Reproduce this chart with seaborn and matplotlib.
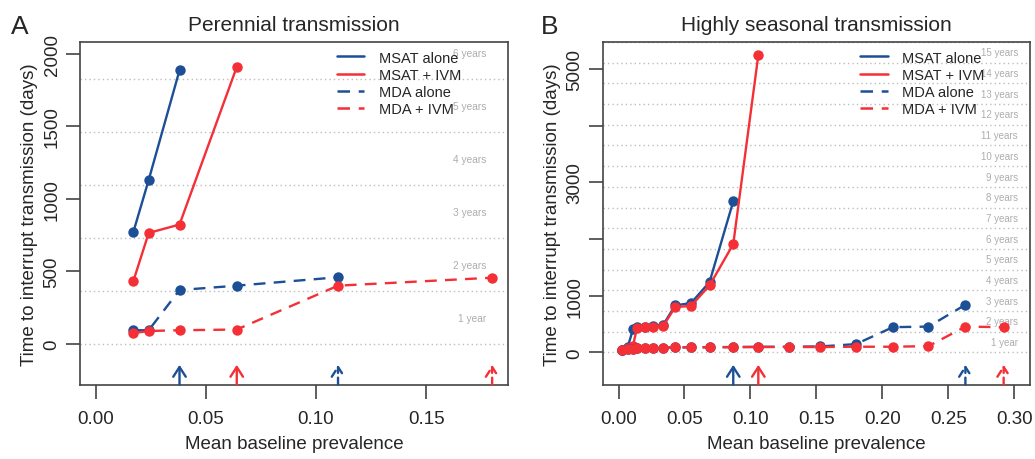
import numpy as np
import pandas as pd
import seaborn as sns
import matplotlib
matplotlib.use("Agg")
import matplotlib.pyplot as plt
from matplotlib.lines import Line2D

# Panel A: perennial transmission
prev_a = [0.017, 0.024, 0.038, 0.064, 0.110, 0.180]
msat_a = [770, 1130, 1885]
msat_ivm_a = [432, 765, 823, 1908]
mda_a = [95, 95, 372, 402, 460]
mda_ivm_a = [75, 90, 95, 100, 402, 457]

# Panel B: highly seasonal transmission
prev_b = [0.003, 0.007, 0.011, 0.014, 0.020, 0.026, 0.034, 0.043, 0.055, 0.069,
          0.087, 0.106, 0.129, 0.153, 0.180, 0.208, 0.235, 0.263, 0.292]
msat_b = [50, 95, 410, 440, 455, 460, 490, 830, 870, 1240, 2665]
msat_ivm_b = [45, 70, 120, 430, 445, 455, 470, 800, 820, 1180, 1910, 5245]
mda_b = [35, 55, 65, 70, 75, 80, 85, 88, 90, 92, 95, 98, 100, 105, 146, 445, 455, 840]
mda_ivm_b = [35, 55, 65, 70, 75, 80, 85, 88, 90, 90, 92, 95, 95, 95, 100, 100, 110, 455, 445]

series_names = ["MSAT alone", "MSAT + IVM", "MDA alone", "MDA + IVM"]
year_labels_a = ["1 year"] + [f"{k} years" for k in range(2, 7)]
year_labels_b = ["1 year"] + [f"{k} years" for k in range(2, 16)]

BLUE = "#1C4F95"
RED = "#F42F36"
GRID = "#BDBDBD"
styles = {
    "MSAT alone": (BLUE, "-"),
    "MSAT + IVM": (RED, "-"),
    "MDA alone": (BLUE, (0, (5, 3.5))),
    "MDA + IVM": (RED, (0, (5, 3.5))),
}

sns.set_style("ticks")
plt.rcParams["font.family"] = ["Liberation Sans", "DejaVu Sans"]

fig = plt.figure(figsize=(10.35, 4.6), dpi=100)
ax_a = fig.add_axes([0.0773, 0.1615, 0.4135, 0.745])
ax_b = fig.add_axes([0.5823, 0.1615, 0.4129, 0.745])


def draw_panel(ax, prev, data, year_labels, xlim, ylim, yticks, ylabels, xticks,
               title, year_x, year_fs, legend_x):
    # dotted year lines
    for k in range(len(year_labels) + 1):
        ax.axhline(365 * k, color=GRID, ls=(0, (1, 2.2)), lw=1.0, zorder=1)
    trans = ax.get_yaxis_transform()
    for k, lab in enumerate(year_labels):
        ax.text(year_x, 365 * k + 182.5, lab, transform=trans, ha="right", va="center",
                fontsize=year_fs, color="#ADADAD", zorder=2)

    for name, vals in zip(series_names, data):
        color, ls = styles[name]
        df = pd.DataFrame({"prev": prev[:len(vals)], "days": vals})
        sns.lineplot(data=df, x="prev", y="days", ax=ax, color=color, linestyle=ls,
                     lw=1.7, marker="o", markersize=7.5, markeredgewidth=0, zorder=3)
        # arrow at the highest prevalence for which transmission was interrupted
        ax.annotate("", xy=(df["prev"].iloc[-1], 0.058), xytext=(df["prev"].iloc[-1], 0.0),
                    xycoords=ax.get_xaxis_transform(),
                    arrowprops=dict(arrowstyle="->,head_length=0.7,head_width=0.45",
                                    color=color, lw=1.7,
                                    linestyle="-" if ls == "-" else (0, (3, 2)),
                                    shrinkA=0, shrinkB=0))

    ax.set_xlim(*xlim)
    ax.set_ylim(*ylim)
    ax.set_xticks(xticks)
    ax.set_xticklabels([f"{t:.2f}" for t in xticks])
    ax.set_yticks(yticks)
    ax.set_yticklabels(ylabels, rotation=90, va="center")
    ax.tick_params(axis="both", length=10, width=1.1, color="#333333", labelsize=13.5)
    ax.tick_params(axis="x", pad=8)
    ax.tick_params(axis="y", pad=4)
    for sp in ax.spines.values():
        sp.set_visible(True)
        sp.set_color("#444444")
        sp.set_linewidth(1.2)
    ax.set_xlabel("Mean baseline prevalence", fontsize=13.5, labelpad=6)
    ax.set_ylabel("Time to interrupt transmission (days)", fontsize=13.5, labelpad=4)
    ax.set_title(title, fontsize=15, pad=9)

    handles = [Line2D([], [], color=styles[n][0], ls=styles[n][1], lw=1.8) for n in series_names]
    ax.legend(handles, series_names, loc="upper left", bbox_to_anchor=(legend_x, 0.975),
              frameon=False, fontsize=10.5, handlelength=1.9, handletextpad=1.0,
              labelspacing=0.22, borderpad=0, borderaxespad=0)


draw_panel(ax_a, prev_a, [msat_a, msat_ivm_a, mda_a, mda_ivm_a], year_labels_a,
           (-0.0072, 0.1872), (-280, 2080), [0, 500, 1000, 1500, 2000],
           ["0", "500", "1000", "1500", "2000"], [0.00, 0.05, 0.10, 0.15],
           "Perennial transmission", 0.949, 7.3, 0.600)
draw_panel(ax_b, prev_b, [msat_b, msat_ivm_b, mda_b, mda_ivm_b], year_labels_b,
           (-0.012, 0.312), (-570, 5475), [0, 1000, 2000, 3000, 4000, 5000],
           ["0", "1000", "", "3000", "", "5000"], [0.00, 0.05, 0.10, 0.15, 0.20, 0.25, 0.30],
           "Highly seasonal transmission", 0.972, 7.0, 0.602)

fig.text(0.011, 0.925, "A", fontsize=19)
fig.text(0.523, 0.925, "B", fontsize=19)

fig.savefig("out.png", dpi=100)
